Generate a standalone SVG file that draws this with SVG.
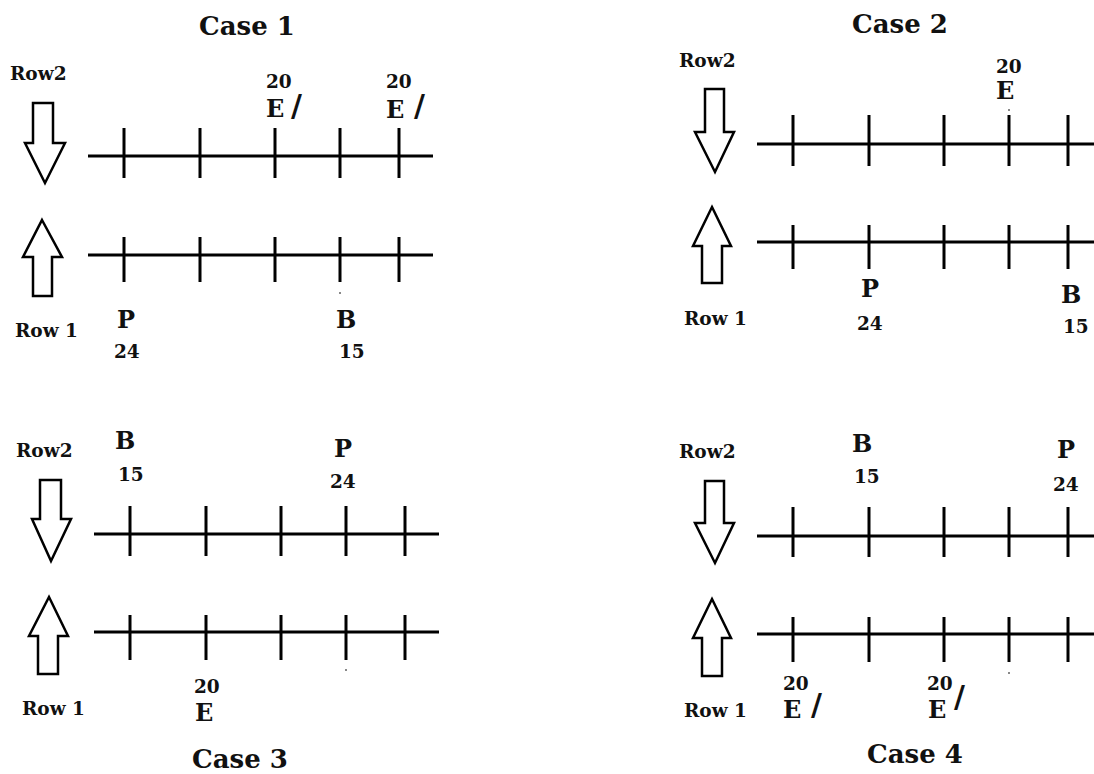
<svg xmlns="http://www.w3.org/2000/svg" width="1094" height="774" viewBox="0 0 1094 774">
<style>
.ln{stroke:#000;stroke-width:3;fill:none}
.arr{fill:#fff;stroke:#000;stroke-width:2.5;stroke-linejoin:miter}
text{font-family:"DejaVu Serif","Liberation Serif",serif;font-weight:bold;fill:#111}
.title{font-size:26px;text-anchor:middle}
.row{font-size:18.5px}
.big{font-size:24px}
.num{font-size:18.5px}
.sl{font-size:30px;font-family:"DejaVu Sans","Liberation Sans",sans-serif;font-weight:bold}
.dot{fill:#888}
</style>
<rect width="1094" height="774" fill="#fff"/>

<g id="case1">
  <text class="title" x="247" y="35">Case 1</text>
  <text class="row" x="10" y="80">Row2</text>
  <text class="row" x="15" y="337">Row 1</text>
  <polygon class="arr" points="33,103 53,103 53,143 65,143 45,183 25,143 33,143"/>
  <polygon class="arr" points="42,220 62,257 52,257 52,296 33,296 33,257 23,257"/>
  <g id="case1-lines">
    <path class="ln" d="M88,156H433 M124,128V178 M200,128V178 M275,128V178 M340,128V178 M399,128V178"/>
    <path class="ln" d="M88,255H433 M124,237V282 M200,237V282 M275,237V282 M340,237V282 M399,237V282"/>
  </g>
  <text class="num" x="266" y="88">20</text>
  <text class="big" x="266" y="117">E</text>
  <text class="sl" x="291" y="116">/</text>
  <text class="num" x="386" y="88">20</text>
  <text class="big" x="386" y="118">E</text>
  <text class="sl" x="414" y="116">/</text>
  <text class="big" x="117" y="328">P</text>
  <text class="num" x="114" y="358">24</text>
  <text class="big" x="336" y="328">B</text>
  <text class="num" x="339" y="358">15</text>
  <rect class="dot" x="339" y="292" width="2" height="2"/>
</g>

<g id="case2">
  <text class="title" x="900" y="33">Case 2</text>
  <text class="row" x="679" y="67">Row2</text>
  <text class="row" x="684" y="325">Row 1</text>
  <polygon class="arr" points="705,89 724,89 724,132 734,132 715,172 695,132 705,132"/>
  <polygon class="arr" points="712,207 731,246 722,246 722,283 702,283 702,246 693,246"/>
  <g id="case2-lines">
    <path class="ln" d="M757,144H1094 M793,115V166 M869,115V166 M944,115V166 M1009,115V166 M1068,115V166"/>
    <path class="ln" d="M757,242H1094 M793,225V269 M869,225V269 M944,225V269 M1009,225V269 M1068,225V269"/>
  </g>
  <text class="num" x="996" y="73">20</text>
  <text class="big" x="996" y="99">E</text>
  <rect class="dot" x="1008" y="109" width="2" height="2"/>
  <text class="big" x="861" y="297">P</text>
  <text class="num" x="857" y="330">24</text>
  <text class="big" x="1061" y="303">B</text>
  <text class="num" x="1063" y="333">15</text>
</g>

<g id="case3">
  <text class="title" x="240" y="768">Case 3</text>
  <text class="row" x="16" y="457">Row2</text>
  <text class="row" x="22" y="715">Row 1</text>
  <polygon class="arr" points="40,480 61,480 61,519 71,519 51,561 32,519 40,519"/>
  <polygon class="arr" points="49,597 68,636 58,636 58,674 38,674 38,636 29,636"/>
  <g id="case3-lines">
    <path class="ln" d="M94,534H439 M130,506V556 M206,506V556 M281,506V556 M346,506V556 M405,506V556"/>
    <path class="ln" d="M94,632H439 M130,615V660 M206,615V660 M281,615V660 M346,615V660 M405,615V660"/>
  </g>
  <text class="big" x="115" y="449">B</text>
  <text class="num" x="118" y="481">15</text>
  <text class="big" x="334" y="457">P</text>
  <text class="num" x="330" y="488">24</text>
  <text class="num" x="194" y="693">20</text>
  <text class="big" x="195" y="721">E</text>
  <rect class="dot" x="345" y="669" width="2" height="2"/>
</g>

<g id="case4">
  <text class="title" x="915" y="763">Case 4</text>
  <text class="row" x="679" y="458">Row2</text>
  <text class="row" x="684" y="717">Row 1</text>
  <polygon class="arr" points="705,481 724,481 724,523 734,523 715,563 695,523 705,523"/>
  <polygon class="arr" points="712,599 731,638 722,638 722,676 702,676 702,638 693,638"/>
  <g id="case4-lines">
    <path class="ln" d="M757,536H1094 M793,507V557 M869,507V557 M944,507V557 M1009,507V557 M1068,507V557"/>
    <path class="ln" d="M757,634H1094 M793,617V662 M869,617V662 M944,617V662 M1009,617V662 M1068,617V662"/>
  </g>
  <text class="big" x="852" y="452">B</text>
  <text class="num" x="854" y="483">15</text>
  <text class="big" x="1057" y="458">P</text>
  <text class="num" x="1053" y="491">24</text>
  <text class="num" x="783" y="690">20</text>
  <text class="big" x="783" y="718">E</text>
  <text class="sl" x="811" y="715">/</text>
  <text class="num" x="927" y="690">20</text>
  <text class="big" x="928" y="718">E</text>
  <text class="sl" x="954" y="707">/</text>
  <rect class="dot" x="1008" y="672" width="2" height="2"/>
</g>
</svg>
